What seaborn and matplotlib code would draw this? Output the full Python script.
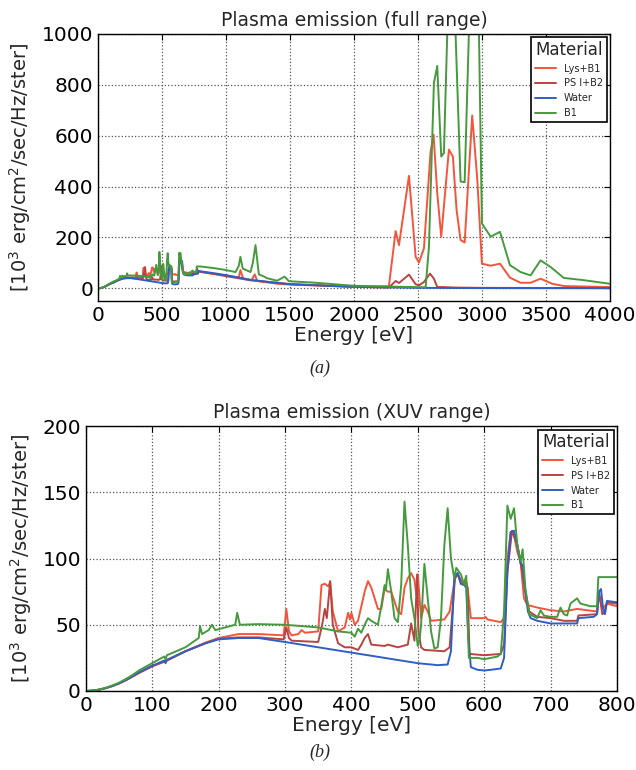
import pandas as pd
import matplotlib.pyplot as plt
import seaborn as sns

# Energia [eV] y emision para cada material
water_e = [0, 10, 20, 30, 40, 50, 60, 70, 80, 100, 118, 120, 122, 150, 180, 200, 230, 260, 300, 350,
           400, 450, 500, 530, 545, 550, 555, 560, 565, 570, 573, 576, 580, 590, 600, 610, 625, 630,
           635, 640, 645, 650, 655, 658, 662, 666, 670, 680, 700, 740, 742, 765, 770, 773, 776, 779,
           782, 785, 800, 900, 1000, 1200, 1500, 2000, 2500, 3000, 4000]
water_v = [0, 0.3, 1, 2.2, 3.8, 5.8, 8.2, 11, 14, 19, 23, 21, 23.5, 30, 36, 39, 40, 40, 37, 33,
           29, 25, 21, 19.5, 20, 30, 85, 89, 81, 80, 78, 40, 18, 16, 15.5, 16, 17, 25,
           90, 120, 121, 110, 96, 95, 75, 60, 55, 53, 51, 51, 55, 56, 58, 75, 77, 63,
           58, 68, 67, 60, 52, 33, 16, 6, 2, 1, 0.5]

ps_e = [0, 10, 20, 30, 40, 50, 60, 70, 80, 100, 120, 150, 180, 200, 230, 260, 298, 302, 306, 310,
        350, 356, 360, 363, 368, 372, 380, 390, 400, 410, 415, 420, 425, 430, 450, 455, 470, 485,
        490, 495, 499, 501, 505, 510, 540, 548, 556, 560, 565, 570, 572, 575, 578, 600, 625, 630,
        635, 642, 650, 655, 662, 668, 680, 700, 720, 740, 742, 770, 773, 778, 782, 785, 800, 1000,
        1200, 1500, 2000, 2273, 2326, 2352, 2430, 2482, 2508, 2547, 2594, 2625, 2651, 2703, 2742,
        2800, 3000, 4000]
ps_v = [0, 0.3, 1, 2.2, 3.8, 5.8, 8.2, 11, 14, 19, 22.5, 30, 36, 39.5, 40.5, 40.5, 39, 48, 40, 38,
        37, 50, 62, 55, 83, 50, 36, 33, 33, 31, 35, 40, 43, 35, 34, 35, 33, 35,
        51, 38, 88, 45, 33, 31, 30, 33, 85, 89, 81, 80, 85, 78, 28, 27, 28, 35,
        90, 121, 110, 97, 75, 60, 56, 55, 53, 53, 57, 58, 75, 58, 60, 67, 66, 48,
        31, 17, 6, 3, 29, 21, 54, 16, 12, 25, 58, 38, 5, 5, 4,
        3, 2, 1]

lys_e = [0, 10, 20, 30, 40, 50, 60, 70, 80, 100, 120, 150, 180, 200, 230, 260, 298, 302, 306, 310,
         320, 325, 330, 350, 355, 360, 365, 368, 372, 380, 390, 395, 398, 400, 405, 410, 420, 425,
         430, 440, 445, 450, 455, 460, 470, 475, 480, 485, 490, 495, 498, 500, 505, 510, 515, 520,
         540, 548, 556, 560, 570, 575, 580, 600, 602, 605, 625, 630, 635, 640, 645, 650, 655, 660,
         665, 680, 700, 720, 740, 770, 773, 778, 785, 800, 1000, 1100, 1113, 1135, 1200, 1225, 1245,
         1400, 1500, 2000, 2273, 2326, 2352, 2430, 2482, 2508, 2547, 2599, 2622, 2651, 2682, 2742,
         2773, 2802, 2833, 2865, 2924, 2964, 3000, 3068, 3141, 3219, 3302, 3380, 3458, 3550, 3640,
         4000]
lys_v = [0, 0.3, 1, 2.1, 3.7, 5.6, 8, 10.7, 13.5, 18.5, 22.5, 30, 36.5, 40, 43, 43, 42, 62, 45, 42,
         43, 46, 44, 45, 80, 81, 79, 82, 60, 45, 48, 59, 54, 59, 50, 53, 75, 83,
         78, 62, 62, 77, 75, 75, 60, 58, 78, 85, 89, 84, 72, 88, 55, 65, 60, 53,
         54, 60, 85, 88, 80, 78, 55, 55, 56, 54, 52, 55, 100, 120, 118, 105, 97, 70,
         65, 63, 61, 60, 62, 60, 73, 62, 66, 64, 50, 42, 72, 38, 32, 55, 29,
         18, 15, 6, 8, 225, 170, 442, 124, 101, 157, 538, 604, 374, 203, 545,
         518, 308, 190, 180, 679, 426, 97, 89, 97, 42, 22, 22, 38, 18, 9,
         5]

b1_e = [0, 10, 20, 30, 40, 50, 60, 70, 80, 100, 118, 120, 122, 150, 170, 172, 175, 185, 190, 195,
        210, 225, 228, 232, 260, 300, 350, 380, 400, 405, 410, 415, 420, 425, 430, 440, 445, 450,
        452, 455, 460, 465, 470, 475, 480, 485, 490, 495, 500, 503, 505, 510, 515, 520, 525, 530,
        535, 540, 545, 550, 555, 558, 565, 570, 573, 577, 590, 600, 620, 625, 630, 635, 640, 645,
        650, 655, 658, 662, 668, 680, 685, 690, 700, 710, 715, 720, 725, 730, 740, 745, 760, 770,
        772, 780, 800, 900, 1000, 1075, 1100, 1113, 1131, 1192, 1210, 1231, 1257, 1300, 1320, 1400,
        1458, 1492, 1700, 2000, 2560, 2586, 2625, 2651, 2682, 2703, 2729, 2760, 2794, 2833, 2865,
        2898, 2935, 2977, 3000, 3068, 3141, 3219, 3302, 3380, 3458, 3536, 3640, 3797, 4000]
b1_v = [0, 0.3, 1.1, 2.4, 4.2, 6.3, 9, 12, 15.5, 21, 26, 24, 27, 33, 40, 49, 43, 46, 50, 46,
        48, 50, 59, 50, 50.5, 50, 48, 45, 44, 41, 47, 44, 50, 55, 53, 50, 64, 80,
        76, 92, 75, 55, 52, 80, 143, 110, 70, 55, 34, 40, 50, 96, 70, 45, 32, 33,
        55, 110, 138, 100, 85, 93, 88, 80, 87, 25, 25, 24, 26, 28, 60, 140, 130, 138,
        110, 98, 107, 78, 58, 55, 61, 57, 56, 56, 63, 58, 57, 66, 70, 66, 64, 64,
        86, 86, 86, 80, 72, 64, 88, 124, 78, 64, 100, 170, 55, 46, 40, 30,
        46, 28, 22, 10, 4, 163, 808, 874, 518, 532, 1000, 1400, 1000, 420, 417,
        1000, 1300, 1000, 255, 203, 222, 91, 64, 51, 110, 84, 41, 32, 18]

materials = ['Lys+B1', 'PS I+B2', 'Water', 'B1']
colores = {'Lys+B1': '#f2553c', 'PS I+B2': '#b84440', 'Water': '#2f5fc4', 'B1': '#469a3e'}

# Tabla larga para seaborn
series = {'Lys+B1': (lys_e, lys_v), 'PS I+B2': (ps_e, ps_v), 'Water': (water_e, water_v), 'B1': (b1_e, b1_v)}
frames = []
for m in materials:
    e, v = series[m]
    frames.append(pd.DataFrame({'energy': e, 'value': v, 'Material': m}))
df = pd.concat(frames, ignore_index=True)

sns.set_theme(style="white")
plt.rcParams['font.family'] = ['DejaVu Sans']
plt.rcParams.update({
    'axes.edgecolor': 'black', 'axes.linewidth': 1.0,
    'xtick.direction': 'in', 'ytick.direction': 'in',
    'xtick.top': True, 'ytick.right': True,
    'xtick.major.size': 4, 'ytick.major.size': 4,
    'xtick.color': 'black', 'ytick.color': 'black',
})

fig = plt.figure(figsize=(6.36, 7.70), dpi=100)
ax1 = fig.add_axes([0.154, 0.609, 0.805, 0.347])
ax2 = fig.add_axes([0.135, 0.1026, 0.835, 0.344])

ylab = r'[10$^3$ erg/cm$^2$/sec/Hz/ster]'

for ax, titulo, xlim, ylim, xt, yt in [
        (ax1, 'Plasma emission (full range)', (0, 4000), (-50, 1000), range(0, 4001, 500), range(0, 1001, 200)),
        (ax2, 'Plasma emission (XUV range)', (0, 800), (0, 200), range(0, 801, 100), range(0, 201, 50))]:
    sns.lineplot(data=df, x='energy', y='value', hue='Material', hue_order=materials,
                 palette=colores, estimator=None, sort=False, linewidth=1.4, ax=ax)
    ax.set_xlim(*xlim)
    ax.set_ylim(*ylim)
    ax.set_xticks(list(xt))
    ax.set_yticks(list(yt))
    ax.tick_params(labelsize=14.5, width=0.8)
    ax.grid(True, linestyle=':', color='#555555', linewidth=0.9)
    ax.set_title(titulo, fontsize=13.5)
    ax.set_xlabel('Energy [eV]', fontsize=14.5, labelpad=1)
    ax.set_ylabel(ylab, fontsize=14, labelpad=6)
    leg = ax.legend(title='Material', loc='upper right', fontsize=7, title_fontsize=12,
                    frameon=True, fancybox=False, edgecolor='black', framealpha=1,
                    labelspacing=0.5, handlelength=2.2, borderaxespad=0.35, borderpad=0.35)
    leg.get_frame().set_linewidth(1.2)

fig.text(0.503, 0.522, '(a)', fontsize=13, fontstyle='italic', family='Liberation Serif', ha='center', va='center')
fig.text(0.503, 0.012, '(b)', fontsize=13, fontstyle='italic', family='Liberation Serif', ha='center', va='bottom')

plt.savefig('out.png', dpi=100)
